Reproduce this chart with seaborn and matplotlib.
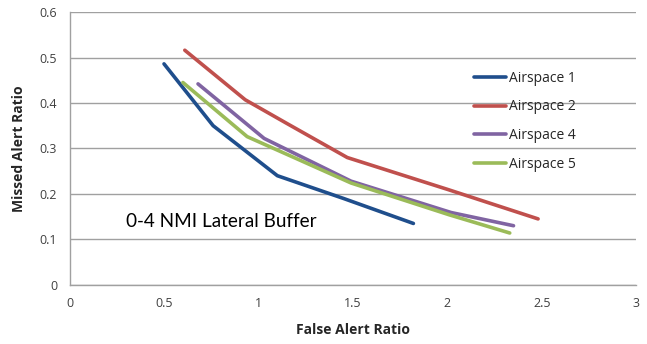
import matplotlib
matplotlib.use("Agg")
import matplotlib.pyplot as plt
import seaborn as sns
import pandas as pd

# Missed alert ratio vs. false alert ratio for each airspace
a1_far = [0.50, 0.76, 1.10, 1.45, 1.82]
a1_mar = [0.486, 0.350, 0.240, 0.190, 0.135]

a2_far = [0.61, 0.93, 1.15, 1.47, 2.00, 2.48]
a2_mar = [0.516, 0.407, 0.355, 0.280, 0.210, 0.145]

a4_far = [0.68, 1.03, 1.49, 2.02, 2.35]
a4_mar = [0.442, 0.322, 0.228, 0.159, 0.130]

a5_far = [0.60, 0.94, 1.49, 2.01, 2.33]
a5_mar = [0.445, 0.326, 0.224, 0.154, 0.114]

series_names = ["Airspace 1", "Airspace 2", "Airspace 4", "Airspace 5"]
series_colors = ["#1f4e8c", "#c0504d", "#8064a2", "#9bbb59"]

x_ticks = [0, 0.5, 1, 1.5, 2, 2.5, 3]
y_ticks = [0, 0.1, 0.2, 0.3, 0.4, 0.5, 0.6]
x_tick_labels = ["0", "0.5", "1", "1.5", "2", "2.5", "3"]
y_tick_labels = ["0", "0.1", "0.2", "0.3", "0.4", "0.5", "0.6"]

frames = []
for name, fx, my in zip(series_names,
                        [a1_far, a2_far, a4_far, a5_far],
                        [a1_mar, a2_mar, a4_mar, a5_mar]):
    frames.append(pd.DataFrame({"far": fx, "mar": my, "series": name}))
df = pd.concat(frames, ignore_index=True)

sns.set_style("white")
plt.rcParams["font.family"] = ["Open Sans", "DejaVu Sans"]

fig = plt.figure(figsize=(6.47, 3.44), dpi=100)
ax = fig.add_axes([0.1075, 0.172, 0.876, 0.793])

sns.lineplot(data=df, x="far", y="mar", hue="series", estimator=None,
             sort=False, palette=series_colors, hue_order=series_names,
             linewidth=2.6, ax=ax, legend=False)

handles = [plt.Line2D([], [], color=c, lw=2.6) for c in series_colors]
ax.legend(handles, series_names, loc="upper left", bbox_to_anchor=(0.704, 0.806),
          frameon=False, fontsize=10, handlelength=2.3, handletextpad=0.2,
          labelspacing=1.0, borderaxespad=0)

ax.set_xlim(0, 3)
ax.set_ylim(0, 0.6)
ax.set_xticks(x_ticks)
ax.set_xticklabels(x_tick_labels)
ax.set_yticks(y_ticks)
ax.set_yticklabels(y_tick_labels)
ax.tick_params(axis="both", length=0, labelsize=9, labelcolor="#404040", pad=9)

ax.yaxis.grid(True, color="#a0a0a0", linewidth=1)
ax.xaxis.grid(False)
for side in ["top", "right"]:
    ax.spines[side].set_visible(False)
for side in ["left", "bottom"]:
    ax.spines[side].set_color("#a0a0a0")
    ax.spines[side].set_linewidth(1)

ax.set_xlabel("False Alert Ratio", fontsize=10, fontweight="bold", labelpad=9)
ax.set_ylabel("Missed Alert Ratio", fontsize=10, fontweight="bold", labelpad=10)

ax.text(0.30, 0.139, "0-4 NMI Lateral Buffer", fontsize=13.6, va="center",
        ha="left", color="black", family=["Lato", "DejaVu Sans"])

fig.savefig("out.png", dpi=100)
